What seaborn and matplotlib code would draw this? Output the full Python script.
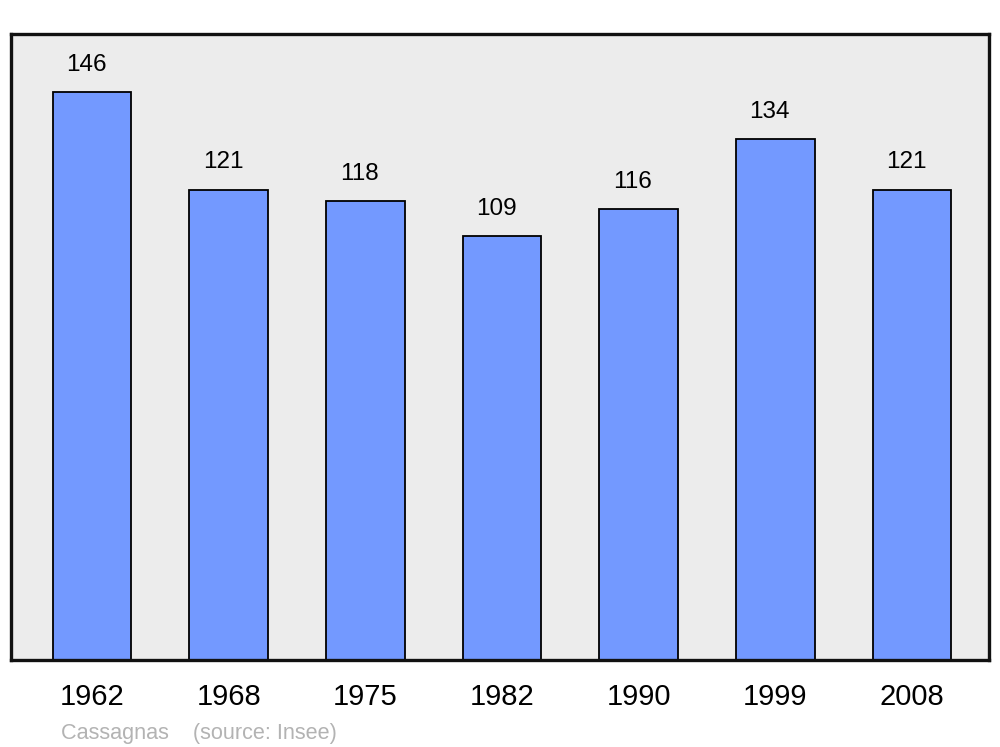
import matplotlib
matplotlib.use("Agg")
import matplotlib.pyplot as plt
import seaborn as sns
import pandas as pd

years = ["1962", "1968", "1975", "1982", "1990", "1999", "2008"]
population = [146, 121, 118, 109, 116, 134, 121]

sns.set_style("white")
plt.rcParams["font.family"] = ["Liberation Sans", "DejaVu Sans"]
plt.rcParams["text.color"] = "black"

df = pd.DataFrame({"year": years, "pop": population})

fig = plt.figure(figsize=(10, 7.47), dpi=100)
ax = fig.add_axes([0.011, 1 - 660 / 747, 0.978, (660 - 34) / 747])
ax.set_facecolor("#ececec")

sns.barplot(data=df, x="year", y="pop", color="#7399ff", saturation=1,
            width=0.575, edgecolor="black", linewidth=1.3, ax=ax)

ax.set_xlim(-0.593, 6.563)
ax.set_ylim(0, 161.0)
for i, v in enumerate(population):
    ax.text(i - 0.042, v + 7.0, str(v), ha="center", va="center",
            fontsize=17.5, color="black")

ax.set_xlabel("")
ax.set_ylabel("")
ax.set_yticks([])
ax.tick_params(axis="x", length=0, labelsize=21, pad=16.5, labelcolor="black")
for s in ax.spines.values():
    s.set_visible(True)
    s.set_linewidth(2.4)
    s.set_color("#111111")

fig.text(0.061, 1 - 733 / 747, "Cassagnas    (source: Insee)", color="#b3b3b3",
         fontsize=15.6, va="center", ha="left")

fig.savefig("out.png", dpi=100, facecolor="white")
